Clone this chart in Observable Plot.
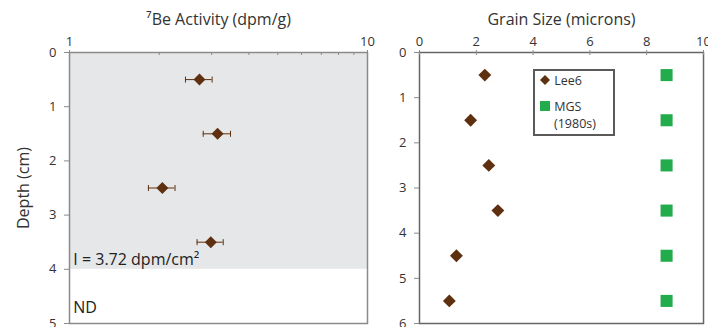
<!DOCTYPE html>
<html>
<head>
<meta charset="utf-8">
<script src="https://cdn.jsdelivr.net/npm/d3@7"></script>
<script src="https://cdn.jsdelivr.net/npm/@observablehq/plot@0.6"></script>
<style>
  html, body { margin: 0; padding: 0; background: #fff; }
  #wrap { position: relative; width: 708px; height: 327px; font-family: "Open Sans", sans-serif; }
  .panel { position: absolute; top: 0; }
  #legend { position: absolute; left: 533px; top: 69px; width: 78px; height: 63px; border: 2px solid #5a5a5a; background: #fff; font-size: 12.5px; color: #333; line-height: 15px; }
  #legend .row { position: absolute; left: 4px; white-space: nowrap; }
</style>
</head>
<body>
<div id="wrap">
  <div class="panel" id="left" style="left:0"></div>
  <div class="panel" id="right" style="left:380px"></div>
  <div id="legend">
    <div class="row" style="top:2px"><svg width="12" height="12" style="vertical-align:-1px"><path d="M6,1L11,6L6,11L1,6Z" fill="#5e3010"/></svg> Lee6</div>
    <div class="row" style="top:28px"><svg width="12" height="12" style="vertical-align:-1px"><rect x="1" y="1" width="10" height="10" fill="#22ac4c"/></svg> MGS</div>
    <div class="row" style="top:45px; left:19px">(1980s)</div>
  </div>
</div>
<script>
// ---- Data ----
const beDepth = [0.5, 1.5, 2.5, 3.5];
const beActivity = [2.73, 3.14, 2.05, 2.98];
const beErr = [0.28, 0.33, 0.21, 0.30];
const inventoryText = "I = 3.72 dpm/cm²";
const ndText = "ND";
const shadedDepth = [0, 4];
const beTicks = [1, 10];
const beMinorTicks = [2, 3, 4, 5, 6, 7, 8, 9];
const beDepthTicks = [0, 1, 2, 3, 4, 5];

const gsDepth = [0.5, 1.5, 2.5, 3.5, 4.5, 5.5];
const lee6 = [2.30, 1.80, 2.44, 2.76, 1.30, 1.05];
const mgs = [8.7, 8.7, 8.7, 8.7, 8.7, 8.7];
const gsTicks = [0, 2, 4, 6, 8, 10];
const gsDepthTicks = [0, 1, 2, 3, 4, 5, 6];

const brown = "#5e3010";
const green = "#22ac4c";
const font = "Open Sans";

const beData = beDepth.map((d, i) => ({depth: d, v: beActivity[i], lo: beActivity[i] - beErr[i], hi: beActivity[i] + beErr[i]}));
const gsData = gsDepth.map((d, i) => ({depth: d, lee6: lee6[i], mgs: mgs[i]}));

const capSymbol = {draw(ctx, size) { const r = Math.sqrt(size) / 2; ctx.moveTo(0, -r); ctx.lineTo(0, r); }};
const fmt = d => String(d);

// ---- Left panel ----
const L = {w: 380, h: 327, ml: 69, mr: 13, mt: 52, mb: 4};
const leftPlot = Plot.plot({
  width: L.w, height: L.h,
  marginLeft: L.ml, marginRight: L.mr, marginTop: L.mt, marginBottom: L.mb,
  style: {fontFamily: font, fontSize: "13px", color: "#333", background: "transparent", overflow: "visible"},
  x: {type: "log", domain: [1, 10]},
  y: {domain: [0, 5], reverse: true},
  marks: [
    Plot.rect([{x1: 1, x2: 10, y1: shadedDepth[0], y2: shadedDepth[1]}], {x1: "x1", x2: "x2", y1: "y1", y2: "y2", fill: "#e6e7e9"}),
    Plot.frame({stroke: "#8a8a8a", strokeWidth: 1.5}),
    Plot.tickX(beMinorTicks, {x: d => d, stroke: "#8a8a8a", insetBottom: (L.h - L.mt - L.mb) - 3}),
    Plot.axisX({anchor: "top", ticks: beTicks, tickFormat: fmt, tickSize: 3, tickPadding: 4, stroke: "#8a8a8a", label: "⁷Be Activity (dpm/g)", labelArrow: "none", labelAnchor: "center", labelOffset: 39}),
    Plot.axisY({anchor: "left", ticks: beDepthTicks, tickFormat: fmt, tickSize: 5, tickPadding: 8, stroke: "#8a8a8a", label: "Depth (cm)", labelArrow: "none", labelAnchor: "center", labelOffset: 52}),
    Plot.ruleY(beData, {y: "depth", x1: "lo", x2: "hi", stroke: brown, strokeWidth: 1}),
    Plot.dot(beData, {x: "lo", y: "depth", symbol: capSymbol, r: 3.4, stroke: brown, strokeWidth: 1, fill: "none"}),
    Plot.dot(beData, {x: "hi", y: "depth", symbol: capSymbol, r: 3.4, stroke: brown, strokeWidth: 1, fill: "none"}),
    Plot.dot(beData, {x: "v", y: "depth", symbol: "diamond2", r: 5.4, fill: brown, stroke: "none"}),
    Plot.text([inventoryText], {x: 1.03, y: 3.82, text: d => d, textAnchor: "start", fontSize: 16, fill: "#222"}),
    Plot.text([ndText], {x: 1.03, y: 4.72, text: d => d, textAnchor: "start", fontSize: 16, fill: "#222"})
  ]
});
document.getElementById("left").appendChild(leftPlot);

// ---- Right panel ----
const R = {w: 328, h: 327, ml: 39, mr: 5, mt: 52, mb: 4};
const rightPlot = Plot.plot({
  width: R.w, height: R.h,
  marginLeft: R.ml, marginRight: R.mr, marginTop: R.mt, marginBottom: R.mb,
  style: {fontFamily: font, fontSize: "13px", color: "#333", background: "transparent", overflow: "visible"},
  x: {domain: [0, 10]},
  y: {domain: [0, 6], reverse: true},
  marks: [
    Plot.frame({stroke: "#666", strokeWidth: 1.5}),
    Plot.tickX(gsTicks, {x: d => d, stroke: "#8a8a8a", insetBottom: (R.h - R.mt - R.mb) - 3}),
    Plot.axisX({anchor: "top", ticks: gsTicks, tickFormat: fmt, tickSize: 3, tickPadding: 4, stroke: "#8a8a8a", label: "Grain Size (microns)", labelArrow: "none", labelAnchor: "center", labelOffset: 39}),
    Plot.axisY({anchor: "left", ticks: gsDepthTicks, tickFormat: fmt, tickSize: 5, tickPadding: 8, stroke: "#8a8a8a", label: null}),
    Plot.dot(gsData, {x: "lee6", y: "depth", symbol: "diamond2", r: 5.8, fill: brown, stroke: "none"}),
    Plot.dot(gsData, {x: "mgs", y: "depth", symbol: "square", r: 6.8, fill: green, stroke: "none"})
  ]
});
document.getElementById("right").appendChild(rightPlot);

// title styling and arrow cleanup
for (const svg of [leftPlot, rightPlot]) {
  svg.querySelectorAll("[aria-label$='axis label'] text").forEach(el => {
    el.textContent = el.textContent.replace(/\s*[→←↑↓]\s*/g, "");
    el.style.fontSize = "16px";
    el.setAttribute("fill", "#333");
  });
}
</script>
</body>
</html>
